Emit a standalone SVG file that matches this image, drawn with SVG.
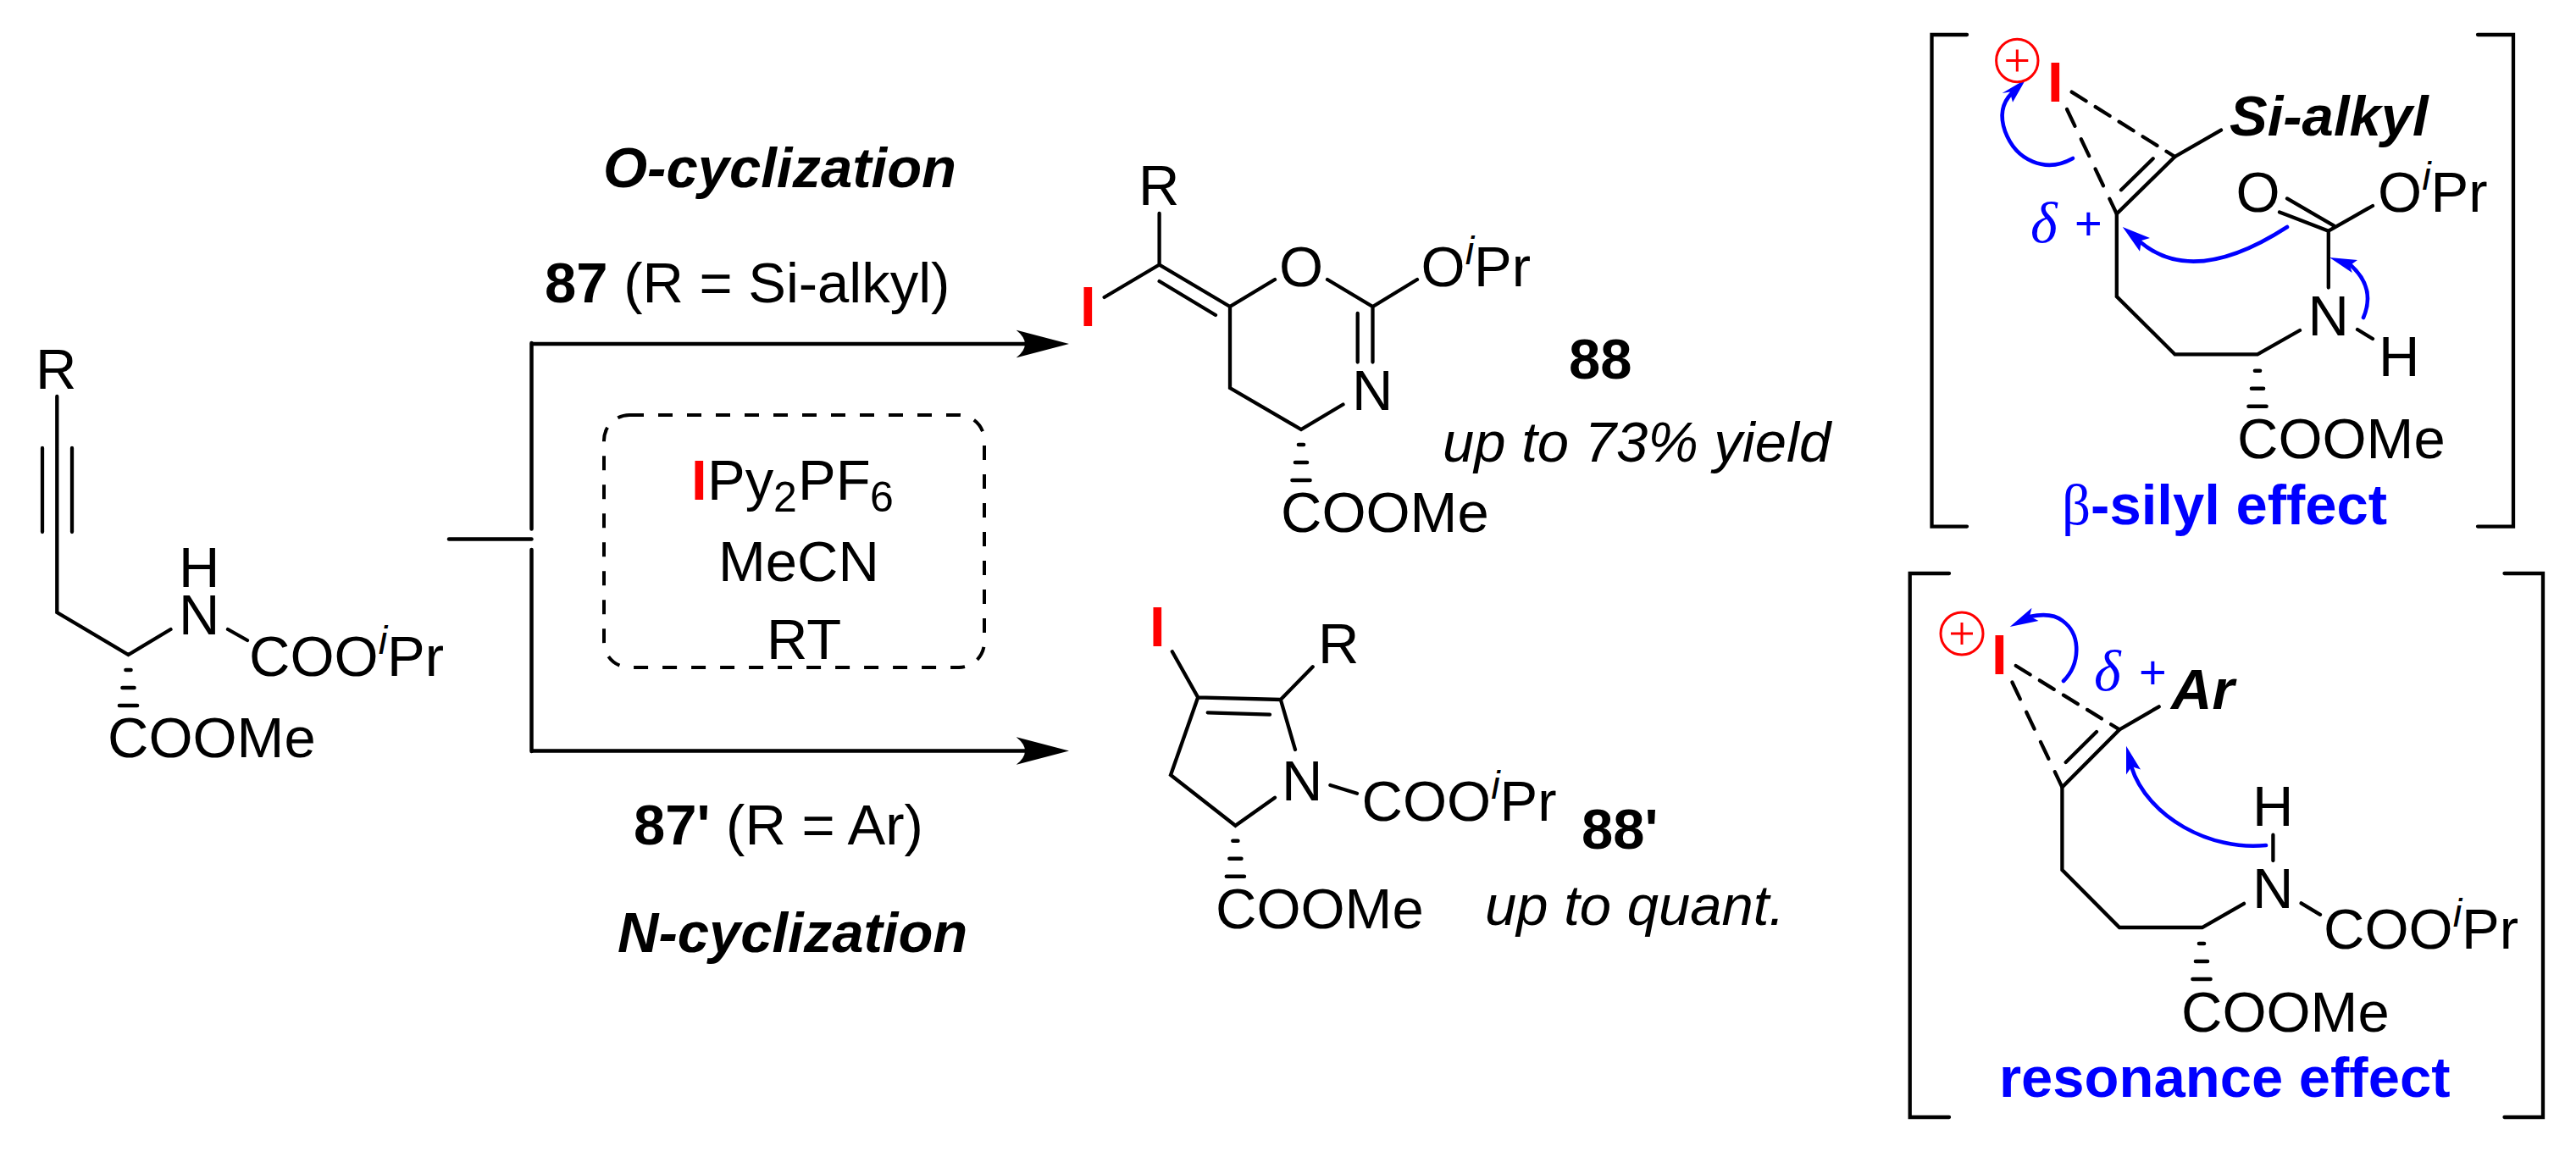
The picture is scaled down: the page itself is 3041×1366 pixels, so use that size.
<svg xmlns="http://www.w3.org/2000/svg" width="3041" height="1366" viewBox="0 0 3041 1366">
<style>
text{font-family:"Liberation Sans",Arial,sans-serif;font-size:67px;fill:#000}
.b{font-weight:bold}
.bi{font-weight:bold;font-style:italic}
.it{font-style:italic}
.red{font-weight:bold;fill:#f00}
.blue{fill:#00f}
.sup{font-size:47px;font-style:italic}
.sub{font-size:50px}
.beta{font-family:"Liberation Serif",serif;font-weight:normal}
.bond{fill:none;stroke:#000;stroke-width:4.3;stroke-linecap:round;stroke-linejoin:miter}
.dash{fill:none;stroke:#000;stroke-width:4.3;stroke-linecap:round}
.rxn{fill:none;stroke:#000;stroke-width:4.5;stroke-linecap:round}
.box{fill:none;stroke:#000;stroke-width:4;stroke-dasharray:17 17}
.curl{fill:none;stroke:#00f;stroke-width:4.6;stroke-linecap:round}
.head{fill:#00f;stroke:none}
.ring{fill:none;stroke:#f00;stroke-width:3}
.delta{font-family:"Liberation Serif",serif;font-size:68px;font-style:italic;fill:#00f}
.dp{font-size:56px;fill:#00f}
</style>
<defs>
<marker id="ah" markerUnits="userSpaceOnUse" markerWidth="64" markerHeight="34" viewBox="0 0 64 34" refX="15.5" refY="17" orient="auto"><path d="M0,0.5 L62.5,17 L0,33.5 Q21,17 0,0.5Z" fill="#000"/></marker>
<g id="hash" stroke="#000" stroke-width="4.6" stroke-linecap="round"><line x1="-3" y1="0" x2="3" y2="0"/><line x1="-7" y1="21" x2="7" y2="21"/><line x1="-10.5" y1="42" x2="10.5" y2="42"/></g>
<g id="plus" stroke="#f00" stroke-width="3"><line x1="-13" y1="0" x2="13" y2="0"/><line x1="0" y1="-13" x2="0" y2="13"/></g>
</defs>

<g id="connectors">
<path class="rxn" d="M530,636.5H627.5"/>
<path class="rxn" d="M627.5,405V624.5M627.5,649V887"/>
<line class="rxn" x1="628" y1="406" x2="1215" y2="406" marker-end="url(#ah)"/>
<line class="rxn" x1="628" y1="886.5" x2="1215" y2="886.5" marker-end="url(#ah)"/>
<path class="curl" d="M2447,187C2415,205 2380,190 2367,155C2360,135 2365,120 2375,110"/>
<path class="head" d="M2391.5,93.4L2363.6,110L2372.7,108.6L2376,120.8Z"/>
<path class="curl" d="M2700,268Q2590,339 2527,286"/>
<path class="head" d="M2505.8,268L2538,281L2528,284L2526,296.7Z"/>
<path class="curl" d="M2790,375Q2805,340 2775,313"/>
<path class="head" d="M2750,304L2783,307L2774,313.5L2776.7,322Z"/>
<path class="curl" d="M2436,804C2455,785 2458,750 2435,733C2425,725 2410,725 2396,728"/>
<path class="head" d="M2372.7,740L2398.5,717.7L2396,727.5L2406.5,733Z"/>
<path class="curl" d="M2675,998C2610,1005 2535,965 2516,905"/>
<path class="head" d="M2510,880.7L2510,914.5L2516.5,905L2527,908.6Z"/>
</g>

<g id="sm-87">
<path class="bond" d="M67.3,468V723L151.5,773L201.5,743M50,529V628M85,529V628M269,743L292,756"/>
<use href="#hash" x="151.5" y="791"/>
<text x="42" y="459">R</text>
<text x="211" y="693">H</text>
<text x="211" y="749">N</text>
<text x="294" y="798">COO<tspan class="sup" dy="-26">i</tspan><tspan dy="26">Pr</tspan></text>
<text x="127" y="894">COOMe</text>
</g>

<g id="conditions">
<rect class="box" x="713" y="490" width="449" height="298" rx="30" ry="30"/>
<text x="816" y="590"><tspan class="red">I</tspan><tspan x="835">Py</tspan><tspan class="sub" x="913" dy="14">2</tspan><tspan x="942" dy="-14">PF</tspan><tspan class="sub" x="1027" dy="14">6</tspan></text>
<text x="848" y="686">MeCN</text>
<text x="905" y="778">RT</text>
</g>

<g id="labels">
<text class="bi" x="712" y="221">O-cyclization</text>
<text x="643" y="357"><tspan class="b">87</tspan> (R = Si-alkyl)</text>
<text x="748" y="997"><tspan class="b">87'</tspan> (R = Ar)</text>
<text class="bi" x="729" y="1124">N-cyclization</text>
</g>

<g id="product-88">
<path class="bond" d="M1368.6,252V312.5L1452,362M1303.6,351L1368.6,312.5M1368.6,332L1435,372M1505,330L1452,362V458L1536,507L1585.5,477.5M1567,330L1620.5,362L1673,330M1620.5,362V427.5M1602.7,370V427.5"/>
<use href="#hash" x="1536" y="525"/>
<text x="1344" y="242">R</text>
<text class="red" x="1275" y="385">I</text>
<text x="1510" y="338">O</text>
<text x="1677.5" y="338">O<tspan class="sup" dy="-26">i</tspan><tspan dy="26">Pr</tspan></text>
<text x="1596" y="484">N</text>
<text x="1512" y="628">COOMe</text>
<text class="b" x="1852" y="447">88</text>
<text class="it" x="1703" y="545">up to 73% yield</text>
</g>

<g id="product-88p">
<path class="bond" d="M1383.8,769.3L1414.2,823.3L1511.8,826L1549.7,787.3M1425.7,841.3L1499,843.7M1511.8,826L1529,885M1414.2,823.3L1382,915L1458.4,974.7L1505,941.7M1570.4,927L1602,936.7"/>
<use href="#hash" x="1458.4" y="992.7"/>
<text class="red" x="1357" y="762.7">I</text>
<text x="1556" y="783">R</text>
<text x="1513" y="945">N</text>
<text x="1607.5" y="969">COO<tspan class="sup" dy="-26">i</tspan><tspan dy="26">Pr</tspan></text>
<text x="1435" y="1096">COOMe</text>
<text class="b" x="1867" y="1001.7">88'</text>
<text class="it" x="1753" y="1091.7">up to quant.</text>
</g>

<g id="intermediate-silyl">
<path class="bond" d="M2322,41H2280.5V621.6H2322M2925,41H2967V621.6H2925"/>
<ellipse class="ring" cx="2381.3" cy="71.5" rx="24.7" ry="25.3"/>
<use href="#plus" x="2381.3" y="71.5"/>
<text class="red" x="2417" y="120">I</text>
<path class="dash" stroke-dasharray="20 13" d="M2445.7,108.6L2567.5,185"/>
<path class="dash" stroke-dasharray="22 17" d="M2440,129L2498.8,252.5"/>
<path class="bond" d="M2622,153.6L2567.5,185L2498.8,252.5V350L2567.5,418.4H2665L2715,390M2504,224.3L2541.7,187.3M2783,389L2801,400M2748.8,339.6V272.7L2691,250.4M2755,266.4L2700,234.4M2748.8,272.7L2801,243"/>
<use href="#hash" x="2665" y="437.7"/>
<text class="bi" x="2632" y="160">Si-alkyl</text>
<text x="2639.5" y="250.4">O</text>
<text x="2807" y="250.4">O<tspan class="sup" dy="-26">i</tspan><tspan dy="26">Pr</tspan></text>
<text x="2724.5" y="395.6">N</text>
<text x="2808" y="444">H</text>
<text x="2641" y="541">COOMe</text>
<text class="delta" x="2397" y="286">δ</text>
<text class="dp" x="2449" y="283">+</text>
<text class="b blue" x="2434" y="618.7"><tspan class="beta">β</tspan>-silyl effect</text>
</g>

<g id="intermediate-aryl">
<path class="bond" d="M2301,677H2254.7V1319H2301M2956.5,677H3002V1319H2956.5"/>
<ellipse class="ring" cx="2316" cy="748" rx="25" ry="25"/>
<use href="#plus" x="2316" y="748"/>
<text class="red" x="2351" y="796">I</text>
<path class="dash" stroke-dasharray="20 13" d="M2379.7,786L2502,861.4"/>
<path class="dash" stroke-dasharray="22 17" d="M2375.4,805.5L2434.4,929.4"/>
<path class="bond" d="M2548.7,834.3L2502,861.4L2434.4,929.4V1027L2502,1095H2599.7L2649,1066.8M2438.7,900L2475,864M2683.4,985.7V1016M2716.6,1066.3L2739,1079.8"/>
<use href="#hash" x="2599" y="1114"/>
<text class="bi" x="2563" y="836.6">Ar</text>
<text x="2659" y="975">H</text>
<text x="2659" y="1072">N</text>
<text x="2743" y="1120">COO<tspan class="sup" dy="-26">i</tspan><tspan dy="26">Pr</tspan></text>
<text x="2575" y="1217.6">COOMe</text>
<text class="delta" x="2472" y="815.4">δ</text>
<text class="dp" x="2525" y="813">+</text>
<text class="b blue" x="2360" y="1295">resonance effect</text>
</g>
</svg>
